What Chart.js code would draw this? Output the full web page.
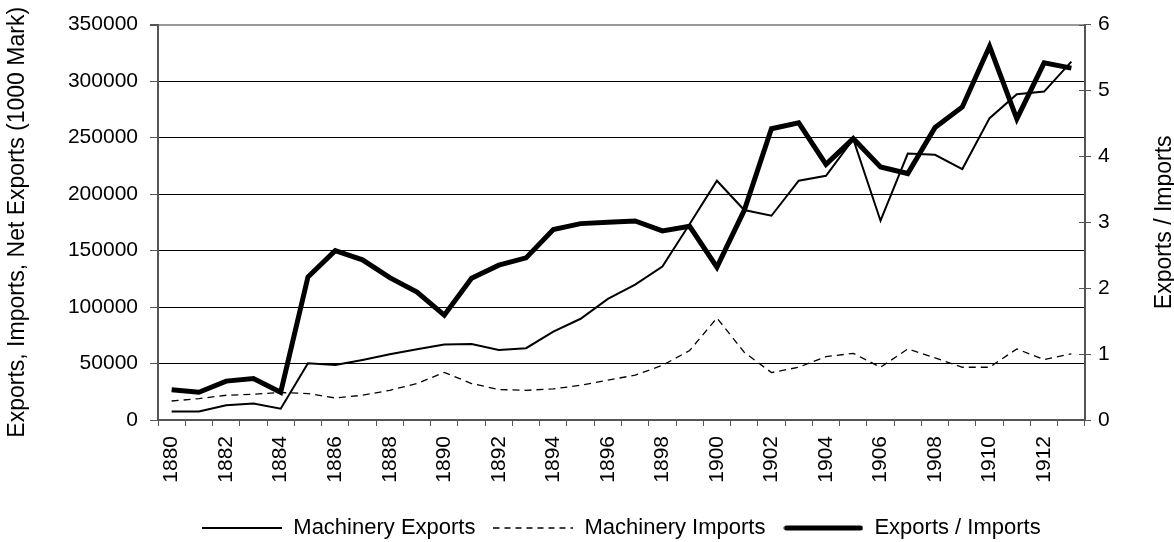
<!DOCTYPE html>
<html>
<head>
<meta charset="utf-8">
<script src="https://cdn.jsdelivr.net/npm/chart.js@4/dist/chart.umd.min.js"></script>
<style>
  html, body { margin: 0; padding: 0; background: #fff; }
</style>
</head>
<body>
<canvas id="chart" width="1174" height="542"></canvas>
<script>
// values
const years = [1880, 1881, 1882, 1883, 1884, 1885, 1886, 1887, 1888, 1889,
  1890, 1891, 1892, 1893, 1894, 1895, 1896, 1897, 1898, 1899,
  1900, 1901, 1902, 1903, 1904, 1905, 1906, 1907, 1908, 1909,
  1910, 1911, 1912, 1913];

const machineryExports = [7500, 7500, 13000, 14500, 10000, 50200, 48700, 53200, 58200, 62700,
  66800, 67300, 62000, 63600, 78300, 89600, 107200, 119900, 135800, 173500,
  211800, 185900, 180800, 211800, 216200, 248600, 176400, 235900, 234700, 222100,
  267200, 288400, 290700, 317200];

const machineryImports = [16800, 18900, 21900, 22800, 24300, 23400, 19500, 21900, 26300, 32300,
  42100, 32300, 27000, 26300, 27500, 30800, 35300, 39700, 48400, 61500,
  90300, 60000, 42000, 46700, 56100, 59000, 46700, 62900, 55000, 46700,
  46700, 62900, 53500, 58500];

const exportsImportsRatio = [0.46, 0.42, 0.59, 0.63, 0.42, 2.17, 2.57, 2.43, 2.16, 1.94,
  1.59, 2.15, 2.35, 2.46, 2.89, 2.98, 3.00, 3.02, 2.87, 2.94,
  2.32, 3.18, 4.42, 4.51, 3.88, 4.27, 3.84, 3.74, 4.44, 4.75,
  5.67, 4.57, 5.42, 5.34];

const leftTicks = [0, 50000, 100000, 150000, 200000, 250000, 300000, 350000];
const rightTicks = [0, 1, 2, 3, 4, 5, 6];

const fontFamily = "'Liberation Sans', Arial, sans-serif";
Chart.defaults.font.family = fontFamily;
Chart.defaults.color = '#000';

const axisColor = '#555';

// little canvases used as legend swatches, so the dashed line stays dashed
function legendSwatch(width, dash) {
  const cv = document.createElement('canvas');
  cv.width = 80;
  cv.height = 8;
  const g = cv.getContext('2d');
  const inset = width > 3 ? 3 : 0;
  g.strokeStyle = '#000';
  g.lineWidth = width;
  g.lineCap = width > 3 ? 'round' : 'butt';
  g.setLineDash(dash);
  g.beginPath();
  g.moveTo(inset, 4);
  g.lineTo(80 - inset, 4);
  g.stroke();
  return cv;
}

// right axis: ticks crossing the axis line and a title reading bottom-to-top
const rightAxisExtras = {
  id: 'rightAxisExtras',
  afterDraw(chart) {
    const scale = chart.scales.y1;
    const c = chart.ctx;
    c.save();
    c.strokeStyle = axisColor;
    c.lineWidth = 1;
    rightTicks.forEach(v => {
      const y = Math.round(scale.getPixelForValue(v)) + 0.5;
      c.beginPath();
      c.moveTo(scale.left - 6, y);
      c.lineTo(scale.left, y);
      c.stroke();
    });
    c.translate(1165, (chart.chartArea.top + chart.chartArea.bottom) / 2);
    c.rotate(-Math.PI / 2);
    c.font = '23px ' + fontFamily;
    c.fillStyle = '#000';
    c.textAlign = 'center';
    c.textBaseline = 'middle';
    c.fillText('Exports / Imports', 0, 0);
    c.restore();
  }
};

const ctx = document.getElementById('chart').getContext('2d');
new Chart(ctx, {
  type: 'line',
  data: {
    labels: years,
    datasets: [
      {
        label: 'Machinery Exports',
        data: machineryExports,
        borderColor: '#000',
        borderWidth: 2,
        pointRadius: 0,
        pointStyle: legendSwatch(2, []),
        tension: 0,
        yAxisID: 'y',
        order: 1
      },
      {
        label: 'Machinery Imports',
        data: machineryImports,
        borderColor: '#000',
        borderWidth: 1.3,
        borderDash: [7, 5],
        pointRadius: 0,
        pointStyle: legendSwatch(1.3, [6, 5]),
        tension: 0,
        yAxisID: 'y',
        order: 2
      },
      {
        label: 'Exports / Imports',
        data: exportsImportsRatio,
        borderColor: '#000',
        borderWidth: 5,
        pointRadius: 0,
        pointStyle: legendSwatch(5, []),
        tension: 0,
        yAxisID: 'y1',
        order: 0
      }
    ]
  },
  options: {
    responsive: false,
    animation: false,
    layout: { padding: { top: 24, left: 0, right: 0, bottom: -7 } },
    plugins: {
      tooltip: { enabled: false },
      legend: {
        position: 'bottom',
        fullSize: false,
        labels: {
          usePointStyle: true,
          pointStyleWidth: 80,
          padding: 18,
          font: { size: 22 },
          color: '#000',
          sort: (a, b) => a.datasetIndex - b.datasetIndex
        }
      }
    },
    scales: {
      x: {
        type: 'category',
        offset: true,
        afterFit: (scale) => { scale.height = 79; },
        grid: {
          offset: true,
          drawOnChartArea: false,
          drawTicks: true,
          tickLength: 6,
          tickColor: axisColor
        },
        border: { display: true, color: axisColor, width: 2 },
        ticks: {
          autoSkip: false,
          maxRotation: 90,
          minRotation: 90,
          padding: 10,
          font: { size: 21 },
          color: '#000',
          callback: function (val, i) {
            return i % 2 === 0 ? String(years[i]) : '';
          }
        }
      },
      y: {
        position: 'left',
        min: 0,
        max: 350000,
        afterFit: (scale) => { scale.width = 158; },
        afterBuildTicks: (scale) => { scale.ticks = leftTicks.map(v => ({ value: v })); },
        grid: {
          color: (c) => c.tick && c.tick.value === 350000 ? '#999' : '#000',
          lineWidth: (c) => c.tick && c.tick.value === 350000 ? 2 : 1,
          tickLength: 8,
          tickColor: axisColor
        },
        border: { display: true, color: axisColor, width: 2 },
        ticks: {
          padding: 12,
          font: { size: 21 },
          color: '#000',
          callback: (v) => String(v)
        },
        title: {
          display: true,
          text: 'Exports, Imports, Net Exports (1000 Mark)',
          font: { size: 23 },
          color: '#000',
          padding: { top: 4, bottom: 4 }
        }
      },
      y1: {
        position: 'right',
        min: 0,
        max: 6,
        afterFit: (scale) => { scale.width = 89; },
        afterBuildTicks: (scale) => { scale.ticks = rightTicks.map(v => ({ value: v })); },
        grid: {
          drawOnChartArea: false,
          tickLength: 6,
          tickColor: axisColor
        },
        border: { display: true, color: axisColor, width: 2 },
        ticks: {
          padding: 7,
          font: { size: 21 },
          color: '#000',
          callback: (v) => String(v)
        }
      }
    }
  },
  plugins: [rightAxisExtras]
});
</script>
</body>
</html>
